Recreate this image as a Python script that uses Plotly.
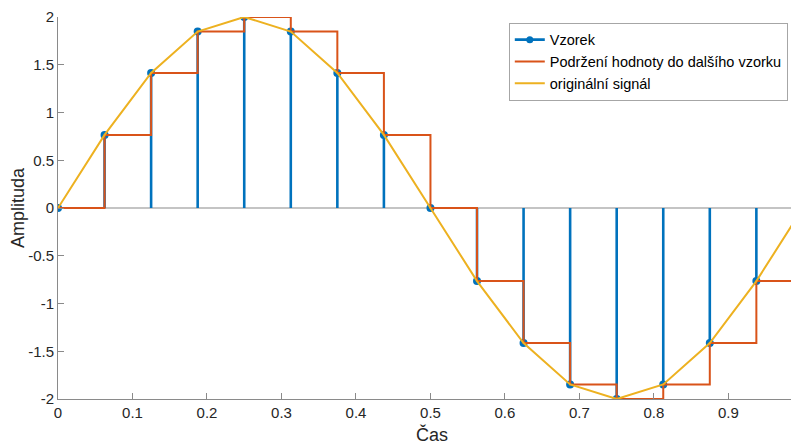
import plotly.graph_objects as go

# sample times and values
t = [0, 0.0625, 0.125, 0.1875, 0.25, 0.3125, 0.375, 0.4375, 0.5,
     0.5625, 0.625, 0.6875, 0.75, 0.8125, 0.875, 0.9375, 1.0]
vzorek = [0, 0.765, 1.414, 1.848, 2.0, 1.848, 1.414, 0.765, 0,
          -0.765, -1.414, -1.848, -2.0, -1.848, -1.414, -0.765, 0]

x_ticks = [0, 0.1, 0.2, 0.3, 0.4, 0.5, 0.6, 0.7, 0.8, 0.9]
y_ticks = [-2, -1.5, -1, -0.5, 0, 0.5, 1, 1.5, 2]

BLUE = "#0072BD"
ORANGE = "#D95319"
YELLOW = "#EDB120"
AXIS = "#8a8a8a"
TXT = "#262626"
FONT = "Liberation Sans, Arial, sans-serif"

# stems
sx, sy = [], []
for ti, vi in zip(t, vzorek):
    sx += [ti, ti, None]
    sy += [0, vi, None]

# zero-order hold
hx, hy = [], []
for i in range(len(t)):
    if i > 0:
        hx.append(t[i]); hy.append(vzorek[i - 1])
    hx.append(t[i]); hy.append(vzorek[i])

fig = go.Figure()
# baseline
fig.add_trace(go.Scatter(x=[t[0], t[-1]], y=[0, 0], mode="lines",
                         line=dict(color=AXIS, width=1.2), showlegend=False, hoverinfo="skip"))
fig.add_trace(go.Scatter(x=sx, y=sy, mode="lines", line=dict(color=BLUE, width=2.6),
                         showlegend=False))
fig.add_trace(go.Scatter(x=t, y=vzorek, mode="markers",
                         marker=dict(color=BLUE, size=8), showlegend=False))
fig.add_trace(go.Scatter(x=[None], y=[None], mode="lines+markers", name="Vzorek",
                         line=dict(color=BLUE, width=2.6), marker=dict(color=BLUE, size=7)))
fig.add_trace(go.Scatter(x=hx, y=hy, mode="lines", name="Podržení hodnoty do dalšího vzorku",
                         line=dict(color=ORANGE, width=2)))
fig.add_trace(go.Scatter(x=t, y=vzorek, mode="lines", name="originální signál",
                         line=dict(color=YELLOW, width=2)))

fig.update_layout(
    width=791, height=445,
    margin=dict(l=58, r=0, t=17, b=46, autoexpand=False),
    paper_bgcolor="white", plot_bgcolor="white",
    font=dict(family=FONT, color=TXT, size=15),
    legend=dict(x=0.615, y=0.985, xanchor="left", yanchor="top",
                bordercolor="#a6a6a6", borderwidth=1, bgcolor="white",
                font=dict(size=14.5, color="#000000"), tracegroupgap=0,
                itemwidth=30),
    annotations=[
        dict(text="Amplituda", textangle=-90, x=-40 / 733, y=0.5, xref="paper", yref="paper",
             xanchor="center", yanchor="middle", showarrow=False,
             font=dict(size=18, color=TXT)),
        dict(text="Čas", x=(432 - 58) / 733, y=-(433 - 398) / 381,
             xref="paper", yref="paper", xanchor="center", yanchor="middle",
             showarrow=False, font=dict(size=18, color=TXT)),
    ],
)
fig.update_xaxes(range=[0, 0.984], tickvals=x_ticks, ticktext=[str(v) for v in x_ticks],
                 showgrid=False, zeroline=False, showline=True, linecolor=AXIS, linewidth=1,
                 ticks="inside", ticklen=6, tickcolor=AXIS)
fig.update_yaxes(range=[-2, 2], tickvals=y_ticks, ticktext=[f"{v:g}" for v in y_ticks],
                 showgrid=False, zeroline=False, showline=True, linecolor=AXIS, linewidth=1,
                 ticks="inside", ticklen=6, tickcolor=AXIS)

fig.write_html("out.html")
